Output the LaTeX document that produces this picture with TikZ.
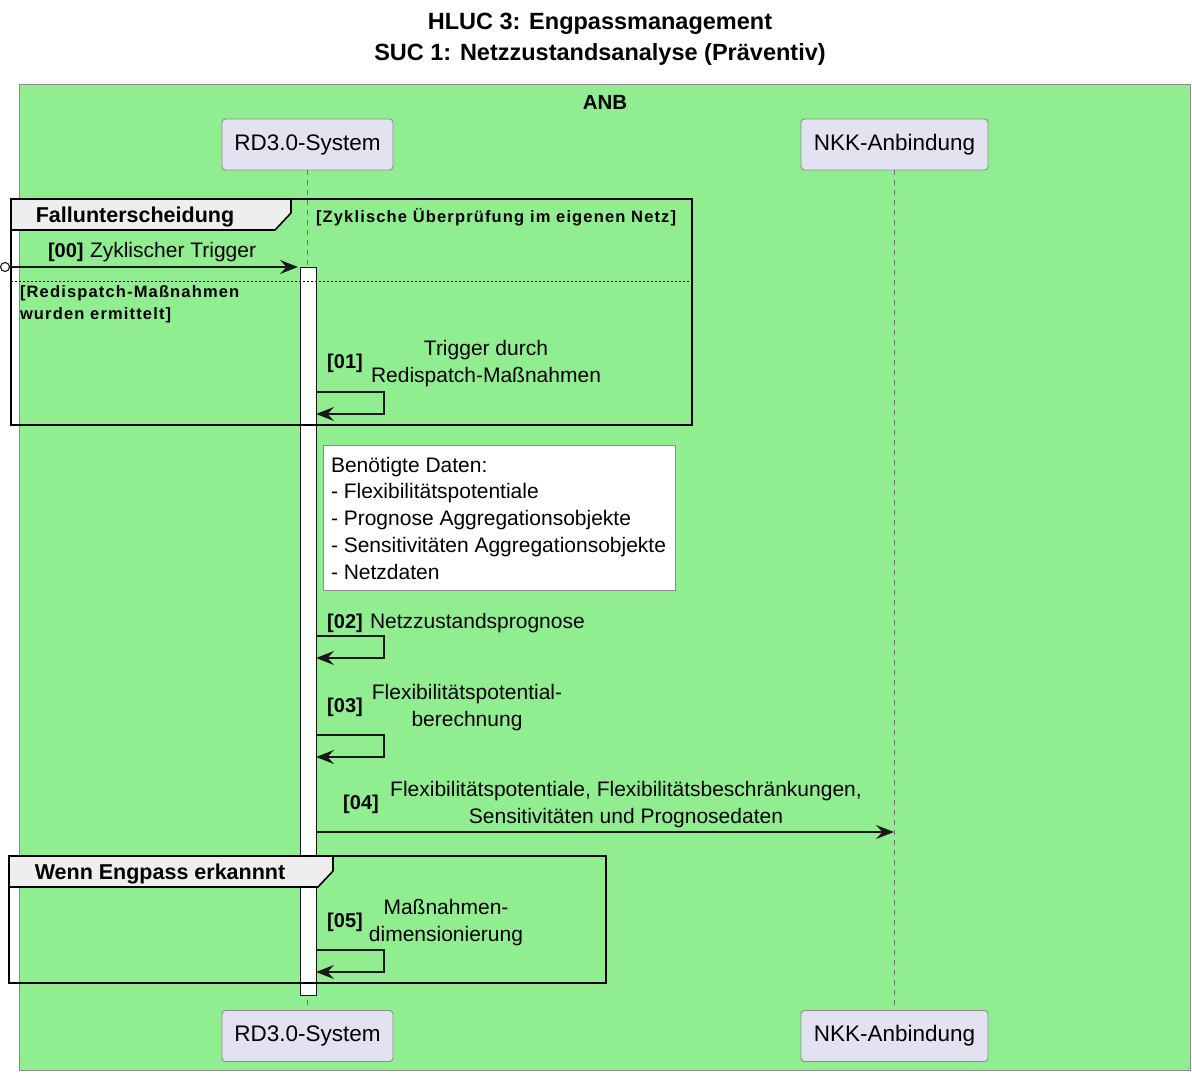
\documentclass[tikz,border=0pt]{standalone}
\usepackage{fontspec}
\setmainfont{Liberation Sans}
\usetikzlibrary{arrows.meta}
\definecolor{anbgreen}{HTML}{90EE90}
\definecolor{partfill}{HTML}{E2E2F0}
\definecolor{partline}{HTML}{8C8C8C}
\definecolor{tabfill}{HTML}{EEEEEE}
\definecolor{inkdark}{HTML}{181818}
\begin{document}
\begin{tikzpicture}[x=1pt,y=-1pt,
  every node/.style={inner sep=0pt, outer sep=0pt, text=black},
  titletext/.style={font=\fontsize{23.5}{31}\selectfont\bfseries, yshift=-1.5pt},
  participant/.style={draw=partline, fill=partfill, rounded corners=3.5pt,
    line width=0.9pt, minimum height=51pt, font=\fontsize{22.5}{24}\selectfont},
  lifeline/.style={draw=partline!80!black, line width=0.9pt, dash pattern=on 5pt off 5pt},
  msgtext/.style={font=\fontsize{21}{27}\selectfont, align=center, yshift=-1.5pt},
  msgnum/.style={font=\fontsize{20}{27}\selectfont\bfseries, yshift=-1.5pt},
  msgarrow/.style={draw=inkdark, line width=1.2pt,
    -{Stealth[length=18pt,width=14pt,inset=6.5pt]}},
  framebox/.style={draw=black, line width=1.6pt},
  frametab/.style={draw=black, fill=tabfill, line width=1.6pt},
  frametitle/.style={font=\fontsize{21.5}{24}\selectfont\bfseries, yshift=-1pt},
  guardtext/.style={font=\fontsize{16.5}{22}\selectfont\bfseries\addfontfeature{LetterSpace=7}, align=left, yshift=-1pt},
  notebox/.style={draw=partline, fill=white, line width=0.9pt},
  notetext/.style={font=\fontsize{21}{26.7}\selectfont, align=left, yshift=-1pt},
  activation/.style={draw=inkdark, fill=white, line width=0.9pt}
]
\useasboundingbox (0,0) rectangle (1192,1073);

% titles
\node[titletext] (title1) at (600,22) {HLUC 3: Engpassmanagement};
\node[titletext] (title2) at (600,53) {SUC 1: Netzzustandsanalyse (Präventiv)};

% ANB box
\draw[fill=anbgreen, draw=partline, line width=1pt] (19,85) rectangle (1190,1070);
\node[font=\fontsize{20.5}{24}\selectfont\bfseries] (anb) at (605,102) {ANB};

% participants
\node[participant, minimum width=171pt] (rdtop) at (307.5,144.5) {RD3.0-System};
\node[participant, minimum width=187pt] (nkktop) at (894.5,144.5) {NKK-Anbindung};
\node[participant, minimum width=171pt] (rdbot) at (307.5,1036) {RD3.0-System};
\node[participant, minimum width=187pt] (nkkbot) at (894.5,1036) {NKK-Anbindung};

% lifelines
\draw[lifeline] (rdtop.south) -- (rdbot.north);
\draw[lifeline] (nkktop.south) -- (nkkbot.north);

% activation of RD3.0-System
\draw[activation] (300,267) rectangle (316,995);

% frame: Fallunterscheidung
\draw[framebox] (11,199) rectangle (692,425);
\draw[frametab] (11,199) -- (291,199) -- (291,213) -- (275,230) -- (11,230) -- cycle;
\node[frametitle] (alt1) at (135,216) {Fallunterscheidung};
\node[guardtext, anchor=west] (guard1) at (316,216) {[Zyklische Überprüfung im eigenen Netz]};
\draw[black, line width=0.9pt, dash pattern=on 2pt off 2pt] (11,281) -- (692,281);
\node[guardtext, anchor=north west] (guard2) at (20,285) {[Redispatch-Maßnahmen\\wurden ermittelt]};

% [00] found message
\coordinate (found) at (5,267);
\coordinate (act00) at (298,267);
\draw[inkdark, line width=1.1pt, fill=white] (found) circle (4.5pt);
\draw[msgarrow] ([xshift=4.5pt]found) -- (act00);
\node[msgnum, anchor=west] (n00) at (48,251) {[00]};
\node[msgtext, anchor=west] (t00) at (90,251) {Zyklischer Trigger};

% [01] self message
\node[msgnum] (n01) at (345,362) {[01]};
\node[msgtext] (t01) at (486,362) {Trigger durch\\Redispatch-Maßnahmen};
\coordinate (s01a) at (316,392);
\coordinate (s01b) at (316,414);
\draw[msgarrow] (s01a) -- (384,392) -- (384,414) -- (s01b);

% note
\draw[notebox] (323,445) rectangle (675,590);
\node[notetext, anchor=north west] (note) at (331,456)
  {Benötigte Daten:\\- Flexibilitätspotentiale\\- Prognose Aggregationsobjekte\\- Sensitivitäten Aggregationsobjekte\\- Netzdaten};

% [02]
\node[msgnum] (n02) at (345,622) {[02]};
\node[msgtext, anchor=west] (t02) at (370,622) {Netzzustandsprognose};
\coordinate (s02a) at (316,636);
\coordinate (s02b) at (316,658);
\draw[msgarrow] (s02a) -- (384,636) -- (384,658) -- (s02b);

% [03]
\node[msgnum] (n03) at (345,706) {[03]};
\node[msgtext] (t03) at (467,706) {Flexibilitätspotential-\\berechnung};
\coordinate (s03a) at (316,735);
\coordinate (s03b) at (316,757);
\draw[msgarrow] (s03a) -- (384,735) -- (384,757) -- (s03b);

% [04]
\node[msgnum] (n04) at (361,803) {[04]};
\node[msgtext] (t04) at (626,803) {Flexibilitätspotentiale, Flexibilitätsbeschränkungen,\\Sensitivitäten und Prognosedaten};
\coordinate (m04a) at (316,832);
\coordinate (m04b) at (894,832);
\draw[msgarrow] (m04a) -- (m04b);

% frame: Wenn Engpass erkannnt
\draw[framebox] (9,856) rectangle (606,983);
\draw[frametab] (9,856) -- (333,856) -- (333,871) -- (318,887) -- (9,887) -- cycle;
\node[frametitle] (opt1) at (160,873) {Wenn Engpass erkannnt};

% [05]
\node[msgnum] (n05) at (345,921) {[05]};
\node[msgtext] (t05) at (446,921) {Maßnahmen-\\dimensionierung};
\coordinate (s05a) at (316,950);
\coordinate (s05b) at (316,972);
\draw[msgarrow] (s05a) -- (384,950) -- (384,972) -- (s05b);
\end{tikzpicture}
\end{document}
